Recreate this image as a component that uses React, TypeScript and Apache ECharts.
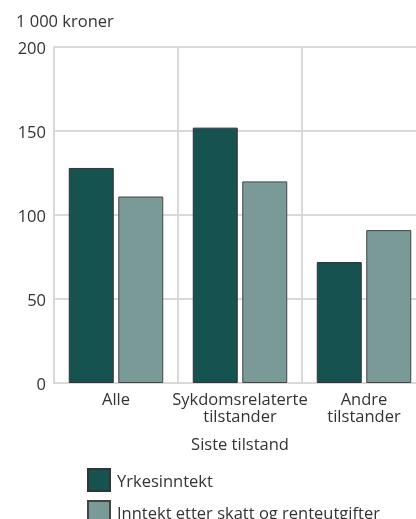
import React, { useEffect, useRef } from "react";
import * as echarts from "echarts";

const categories = ["Alle", "Sykdomsrelaterte\ntilstander", "Andre\ntilstander"];
const yrkesinntekt = [128, 152, 72];
const inntektEtterSkatt = [111, 120, 91];
const seriesNames = ["Yrkesinntekt", "Inntekt etter skatt og renteutgifter"];
const yTicks = { min: 0, max: 200, interval: 50 };
const unitLabel = "1 000 kroner";
const xAxisTitle = "Siste tilstand";

const FONT = "Open Sans";
const FS = 16.5;

export default function App() {
  const ref = useRef<HTMLDivElement>(null);
  useEffect(() => {
    if (!ref.current) return;
    const chart = echarts.init(ref.current, null, { renderer: "svg" });
    chart.setOption({
      animation: false,
      textStyle: { fontFamily: FONT, color: "#333" },
      grid: { left: 54, right: 0, top: 47, bottom: 136 },
      graphic: [
        {
          type: "text",
          x: 16,
          y: 20,
          style: { text: unitLabel, fontFamily: FONT, fontSize: FS, fill: "#333", verticalAlign: "middle" },
        },
      ],
      legend: {
        orient: "vertical",
        left: 87,
        top: 468,
        height: 120,
        width: 340,
        padding: 0,
        itemWidth: 22,
        itemHeight: 22,
        itemGap: 8,
        icon: "rect",
        textStyle: { fontFamily: FONT, fontSize: FS, color: "#333", padding: [0, 0, 0, 2] },
        data: seriesNames,
      },
      xAxis: {
        type: "category",
        data: categories,
        name: xAxisTitle,
        nameLocation: "middle",
        nameGap: 52,
        nameTextStyle: { fontFamily: FONT, fontSize: FS, color: "#333" },
        axisLine: { show: true, lineStyle: { color: "#d9d9d9", width: 2 } },
        axisTick: { show: false },
        splitLine: { show: true, interval: 0, lineStyle: { color: "#d9d9d9", width: 2 } },
        axisLabel: { fontFamily: FONT, fontSize: FS, color: "#333", margin: 7, lineHeight: 17, interval: 0 },
      },
      yAxis: {
        type: "value",
        min: yTicks.min,
        max: yTicks.max,
        interval: yTicks.interval,
        axisLine: { show: true, lineStyle: { color: "#d9d9d9", width: 2 } },
        axisTick: { show: false },
        splitLine: { show: true, lineStyle: { color: "#d9d9d9", width: 2 } },
        axisLabel: { fontFamily: FONT, fontSize: FS, color: "#333", margin: 8 },
      },
      series: [
        {
          name: seriesNames[0],
          type: "bar",
          data: yrkesinntekt,
          barWidth: 45,
          barGap: "10%",
          itemStyle: { color: "#165250", borderColor: "#333", borderWidth: 1 },
        },
        {
          name: seriesNames[1],
          type: "bar",
          data: inntektEtterSkatt,
          barWidth: 45,
          barGap: "10%",
          itemStyle: { color: "#7a9a98", borderColor: "#444", borderWidth: 1 },
        },
      ],
    });
    return () => chart.dispose();
  }, []);
  return (
    <div style={{ position: "fixed", left: 0, top: 0, width: 416, height: 519, overflow: "hidden" }}>
      <div ref={ref} style={{ width: 426, height: 519 }} />
    </div>
  );
}
